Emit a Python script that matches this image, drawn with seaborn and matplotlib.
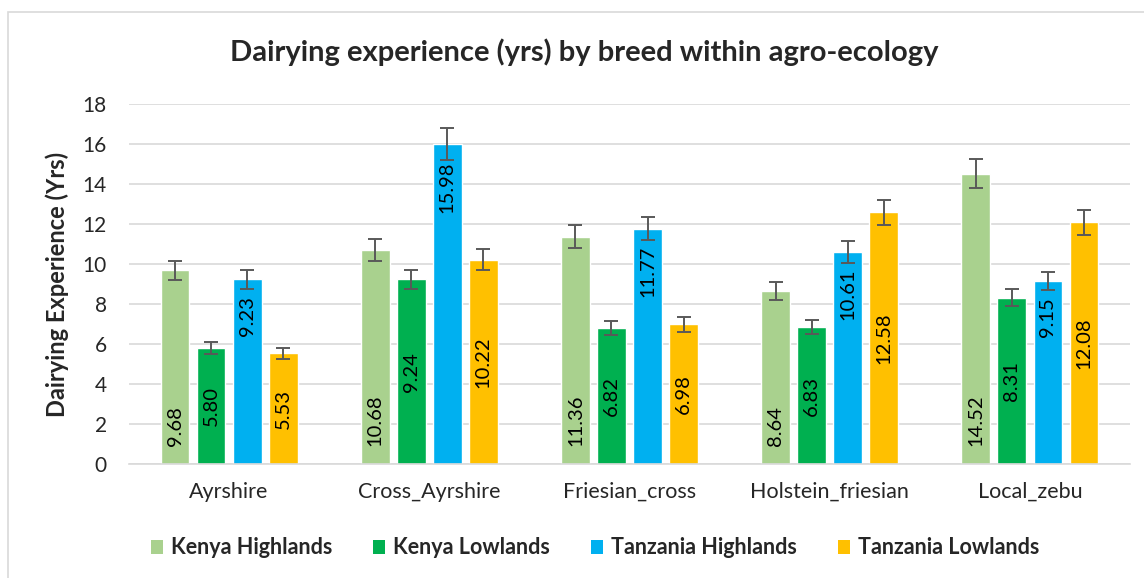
import matplotlib
matplotlib.use("Agg")
import matplotlib.pyplot as plt
import seaborn as sns
import pandas as pd
import numpy as np
from matplotlib.patches import Rectangle, Patch

categories = ["Ayrshire", "Cross_Ayrshire", "Friesian_cross", "Holstein_friesian", "Local_zebu"]
series = ["Kenya Highlands", "Kenya Lowlands", "Tanzania Highlands", "Tanzania Lowlands"]
kenya_highlands = [9.68, 10.68, 11.36, 8.64, 14.52]
kenya_lowlands = [5.80, 9.24, 6.82, 6.83, 8.31]
tanzania_highlands = [9.23, 15.98, 11.77, 10.61, 9.15]
tanzania_lowlands = [5.53, 10.22, 6.98, 12.58, 12.08]
err_kenya_highlands = [0.48, 0.55, 0.57, 0.44, 0.74]
err_kenya_lowlands = [0.31, 0.47, 0.35, 0.35, 0.43]
err_tanzania_highlands = [0.47, 0.80, 0.58, 0.54, 0.47]
err_tanzania_lowlands = [0.28, 0.53, 0.36, 0.63, 0.62]
yticks = [0, 2, 4, 6, 8, 10, 12, 14, 16, 18]

values = [kenya_highlands, kenya_lowlands, tanzania_highlands, tanzania_lowlands]
errors = [err_kenya_highlands, err_kenya_lowlands, err_tanzania_highlands, err_tanzania_lowlands]
colors = ["#A9D18E", "#00B050", "#00B0F0", "#FFC000"]
label_modes = ["base", "center", "end", "center"]

rows = []
for s, vals in zip(series, values):
    for c, v in zip(categories, vals):
        rows.append({"Breed": c, "Region": s, "Years": v})
df = pd.DataFrame(rows)

sns.set_style("white")
plt.rcParams["font.family"] = ["Lato", "DejaVu Sans"]

W, H = 1144, 578
fig = plt.figure(figsize=(W / 100, H / 100), dpi=100)
ax = fig.add_axes([129 / W, (H - 464) / H, 1001 / W, 360 / H])

sns.barplot(data=df, x="Breed", y="Years", hue="Region", order=categories,
            hue_order=series, palette=colors, width=0.72, gap=0.2,
            errorbar=None, ax=ax, legend=False, saturation=1)

bar_conts = list(ax.containers)
for i, cont in enumerate(bar_conts):
    xs = [b.get_x() + b.get_width() / 2 for b in cont]
    hs = [b.get_height() for b in cont]
    ax.errorbar(xs, hs, yerr=errors[i], fmt="none", ecolor="#595959",
                elinewidth=1.4, capsize=5, capthick=1.4, zorder=5)
    for x, h in zip(xs, hs):
        txt = f"{h:.2f}"
        mode = label_modes[i]
        if mode == "base":
            ax.annotate(txt, (x, 0), xytext=(0, 13), textcoords="offset points",
                        rotation=90, ha="center", va="bottom", fontsize=14.5, color="black", zorder=6)
        elif mode == "end":
            ax.annotate(txt, (x, h), xytext=(0, -12), textcoords="offset points",
                        rotation=90, ha="center", va="top", fontsize=14.5, color="black", zorder=6)
        else:
            ax.annotate(txt, (x, h / 2), rotation=90, ha="center", va="center",
                        fontsize=14.5, color="black", zorder=6)

ax.set_ylim(0, 18)
ax.set_xlim(-0.5, 4.5)
ax.set_yticks(yticks)
ax.set_yticklabels([str(t) for t in yticks])
ax.yaxis.grid(True, color="#D9D9D9", linewidth=1.2)
ax.set_axisbelow(True)
for side in ["left", "right", "top"]:
    ax.spines[side].set_visible(False)
ax.spines["bottom"].set_color("#D9D9D9")
ax.spines["bottom"].set_linewidth(1.2)
ax.tick_params(axis="y", length=0, pad=16, labelsize=15, labelcolor="#262626")
ax.tick_params(axis="x", length=0, pad=13, labelsize=15.5, labelcolor="#262626")
ax.set_xlabel("")
ax.set_ylabel("Dairying Experience (Yrs)", fontsize=17, fontweight="bold", labelpad=10)

fig.text(584 / W, 1 - 52 / H, "Dairying experience (yrs) by breed within agro-ecology",
         ha="center", va="center", fontsize=21, fontweight="bold")

handles = [Patch(facecolor=c, edgecolor="none") for c in colors]
leg = fig.legend(handles, series, loc="center", bbox_to_anchor=(595 / W, 1 - 548 / H),
                 ncol=4, frameon=False, handlelength=0.56, handleheight=0.65,
                 handletextpad=0.37, columnspacing=1.9,
                 prop={"weight": "bold", "size": 15.5})

fig.patches.append(Rectangle((8 / W, -0.1), 1.2, 1 - 12 / H + 0.1, transform=fig.transFigure,
                             fill=False, edgecolor="#D9D9D9", linewidth=1.2))

fig.savefig("out.png", dpi=100)
